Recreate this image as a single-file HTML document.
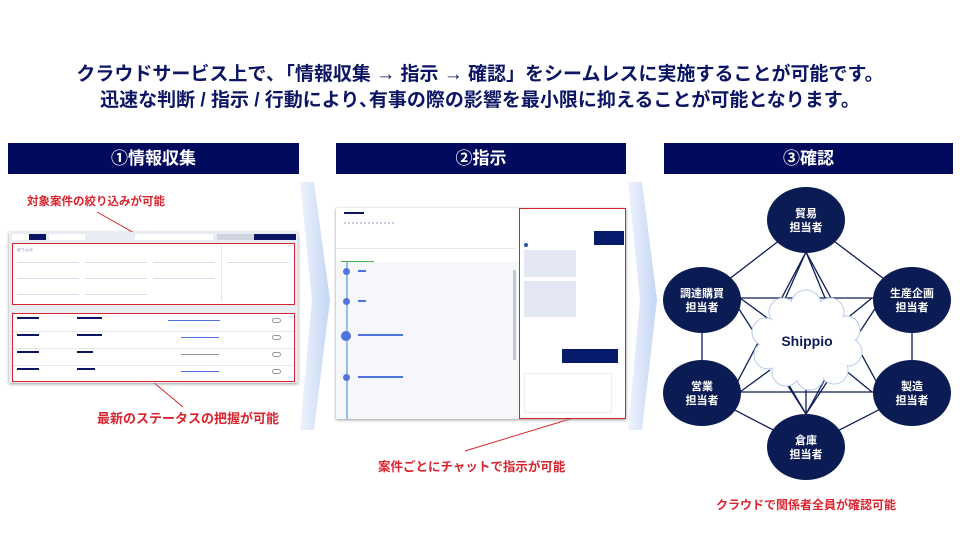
<!DOCTYPE html>
<html><head><meta charset="utf-8">
<style>
*{margin:0;padding:0;box-sizing:border-box}
body{width:960px;height:540px;background:#fff;position:relative;overflow:hidden;font-family:"Liberation Sans","Noto Sans CJK JP",sans-serif}
.a{position:absolute}
.title{left:0;width:960px;text-align:center;color:#0b1563;font-weight:700;font-size:19px;line-height:24px}
.hd{top:143px;height:31px;background:#020a5e;color:#fff;font-weight:700;font-size:17px;line-height:31px;text-align:center}
.red{color:#d9252f;font-weight:700;white-space:nowrap}
.t{position:absolute;font-size:4px;color:#8890a8;white-space:nowrap}
</style></head><body>
<div class="a title" style="top:63px">クラウドサービス上で､「情報収集 → 指示 → 確認」をシームレスに実施することが可能です。</div>
<div class="a title" style="top:89px">迅速な判断 / 指示 / 行動により､有事の際の影響を最小限に抑えることが可能となります。</div>
<div class="a hd" style="left:8px;width:291px">①情報収集</div>
<div class="a hd" style="left:336px;width:290px">②指示</div>
<div class="a hd" style="left:664px;width:289px">③確認</div>

<svg class="a" style="left:0;top:0" width="960" height="540">
<defs><linearGradient id="g" x1="0" x2="1"><stop offset="0" stop-color="#eef3fd"/><stop offset="1" stop-color="#c5d6f3"/></linearGradient></defs>
<polygon points="300,182 314,182 330,300 314,430 300,430 312,300" fill="url(#g)"/>
<polygon points="628,182 642,182 657,300 642,430 628,430 640,300" fill="url(#g)"/>
<!-- red leader lines -->
<line x1="97" y1="212" x2="152" y2="243" stroke="#d9252f" stroke-width="1"/>
<line x1="153" y1="382" x2="183" y2="407" stroke="#d9252f" stroke-width="1"/>
<line x1="465" y1="451" x2="570" y2="419" stroke="#d9252f" stroke-width="1"/>
<!-- network -->
<g stroke="#0e1d57" stroke-width="1.3">
<line x1="806" y1="220" x2="702" y2="300"/><line x1="806" y1="220" x2="912" y2="300"/>
<line x1="702" y1="300" x2="702" y2="393"/><line x1="912" y1="300" x2="912" y2="393"/>
<line x1="702" y1="393" x2="806" y2="447"/><line x1="912" y1="393" x2="806" y2="447"/>
<line x1="702" y1="298" x2="912" y2="298"/><line x1="702" y1="392" x2="912" y2="392"/>
<line x1="806" y1="252" x2="732" y2="392"/><line x1="806" y1="252" x2="882" y2="392"/>
<line x1="806" y1="414" x2="732" y2="298"/><line x1="806" y1="414" x2="882" y2="298"/>
<line x1="806" y1="252" x2="780" y2="310"/><line x1="806" y1="252" x2="830" y2="310"/>
<line x1="806" y1="414" x2="780" y2="370"/><line x1="806" y1="414" x2="830" y2="370"/>
<line x1="806" y1="414" x2="806" y2="370"/>
<line x1="740" y1="298" x2="770" y2="320"/><line x1="740" y1="392" x2="770" y2="370"/>
<line x1="872" y1="298" x2="845" y2="320"/><line x1="872" y1="392" x2="845" y2="370"/>
</g>
<g fill="#fff" stroke="#b9cdea" stroke-width="1">
<circle cx="783" cy="312" r="14"/><circle cx="806" cy="305" r="15"/><circle cx="830" cy="312" r="14"/>
<circle cx="846" cy="330" r="14"/><circle cx="848" cy="352" r="14"/><circle cx="834" cy="370" r="14"/>
<circle cx="810" cy="376" r="14"/><circle cx="786" cy="372" r="14"/><circle cx="768" cy="355" r="14"/>
<circle cx="766" cy="332" r="14"/>
</g>
<g fill="#fff"><circle cx="783" cy="312" r="13"/><circle cx="806" cy="305" r="14"/><circle cx="830" cy="312" r="13"/>
<circle cx="846" cy="330" r="13"/><circle cx="848" cy="352" r="13"/><circle cx="834" cy="370" r="13"/>
<circle cx="810" cy="376" r="13"/><circle cx="786" cy="372" r="13"/><circle cx="768" cy="355" r="13"/>
<circle cx="766" cy="332" r="13"/><ellipse cx="807" cy="340" rx="40" ry="30"/></g>
<text x="807" y="346" text-anchor="middle" font-size="14" font-weight="700" fill="#0e1d57" font-family="Liberation Sans,sans-serif">Shippio</text>
<g fill="#0b1c55">
<ellipse cx="806" cy="220" rx="39" ry="33"/><ellipse cx="702" cy="300" rx="39" ry="33"/>
<ellipse cx="912" cy="300" rx="39" ry="33"/><ellipse cx="702" cy="393" rx="39" ry="33"/>
<ellipse cx="912" cy="393" rx="39" ry="33"/><ellipse cx="806" cy="447" rx="39" ry="33"/>
</g>
<g fill="#fff" font-size="11" text-anchor="middle" font-family="Liberation Sans,Noto Sans CJK JP,sans-serif" font-weight="700">
<text x="806" y="217">貿易</text><text x="806" y="231">担当者</text>
<text x="702" y="297">調達購買</text><text x="702" y="311">担当者</text>
<text x="912" y="297">生産企画</text><text x="912" y="311">担当者</text>
<text x="702" y="390">営業</text><text x="702" y="404">担当者</text>
<text x="912" y="390">製造</text><text x="912" y="404">担当者</text>
<text x="806" y="444">倉庫</text><text x="806" y="458">担当者</text>
</g>
</svg>

<div class="a red" style="left:27px;top:193px;font-size:11.5px">対象案件の絞り込みが可能</div>
<div class="a red" style="left:97px;top:408px;font-size:13px">最新のステータスの把握が可能</div>
<div class="a red" style="left:378px;top:456px;font-size:12.5px">案件ごとにチャットで指示が可能</div>
<div class="a red" style="left:716px;top:496px;font-size:12px">クラウドで関係者全員が確認可能</div>

<!-- screenshot 1 -->
<div class="a" style="left:9px;top:232px;width:289px;height:151px;background:#e8ecf3;box-shadow:0 1px 3px #999">
 <div class="a" style="left:3px;top:2px;width:17px;height:6px;background:#fff"></div>
 <div class="a" style="left:20px;top:2px;width:17px;height:6px;background:#0b1563"></div>
 <div class="a" style="left:40px;top:2px;width:36px;height:6px;background:#fff"></div>
 <div class="a" style="left:126px;top:2px;width:78px;height:6px;background:#fff"></div>
 <div class="a" style="left:208px;top:2px;width:40px;height:6px;background:#cfd4de"></div>
 <div class="a" style="left:245px;top:2px;width:42px;height:6px;background:#0b1563"></div>
 <div class="a" style="left:3px;top:11px;width:283px;height:62px;background:#fff;border:1px solid #d9252f">
  <div class="t" style="left:4px;top:3px">絞り込み</div>
  <div class="a" style="left:4px;top:14px;width:62px;height:5px;border-bottom:1px solid #dde"></div>
  <div class="a" style="left:72px;top:14px;width:62px;height:5px;border-bottom:1px solid #dde"></div>
  <div class="a" style="left:140px;top:14px;width:62px;height:5px;border-bottom:1px solid #dde"></div>
  <div class="a" style="left:214px;top:14px;width:62px;height:5px;border-bottom:1px solid #dde"></div>
  <div class="a" style="left:4px;top:30px;width:62px;height:5px;border-bottom:1px solid #dde"></div>
  <div class="a" style="left:72px;top:30px;width:62px;height:5px;border-bottom:1px solid #dde"></div>
  <div class="a" style="left:140px;top:30px;width:62px;height:5px;border-bottom:1px solid #dde"></div>
  <div class="a" style="left:4px;top:46px;width:62px;height:5px;border-bottom:1px solid #dde"></div>
  <div class="a" style="left:72px;top:46px;width:62px;height:5px;border-bottom:1px solid #dde"></div>
  <div class="a" style="left:208px;top:2px;width:1px;height:56px;background:#e4e6ec"></div>
 </div>
 <div class="a" style="left:3px;top:81px;width:283px;height:69px;background:#fff;border:1px solid #d9252f">
  <div class="a" style="left:0;top:17px;width:281px;height:1px;background:#e4e6ec"></div>
  <div class="a" style="left:0;top:34px;width:281px;height:1px;background:#e4e6ec"></div>
  <div class="a" style="left:0;top:51px;width:281px;height:1px;background:#e4e6ec"></div>
  <div class="a" style="left:4px;top:3px;width:22px;height:2px;background:#0b1563"></div>
  <div class="a" style="left:4px;top:20px;width:22px;height:2px;background:#0b1563"></div>
  <div class="a" style="left:4px;top:37px;width:22px;height:2px;background:#0b1563"></div>
  <div class="a" style="left:4px;top:54px;width:22px;height:2px;background:#0b1563"></div>
  <div class="a" style="left:64px;top:3px;width:25px;height:2px;background:#0b1563"></div>
  <div class="a" style="left:64px;top:20px;width:25px;height:2px;background:#0b1563"></div>
  <div class="a" style="left:64px;top:37px;width:16px;height:2px;background:#0b1563"></div>
  <div class="a" style="left:64px;top:54px;width:18px;height:2px;background:#0b1563"></div>
  <div class="a" style="left:155px;top:6px;width:52px;height:1px;background:#4f74e0"></div>
  <div class="a" style="left:168px;top:23px;width:38px;height:1px;background:#4f74e0"></div>
  <div class="a" style="left:168px;top:40px;width:38px;height:1px;background:#999"></div>
  <div class="a" style="left:168px;top:57px;width:38px;height:1px;background:#4f74e0"></div>
  <div class="a" style="left:259px;top:4px;width:9px;height:5px;border:1px solid #999;border-radius:3px"></div>
  <div class="a" style="left:259px;top:21px;width:9px;height:5px;border:1px solid #999;border-radius:3px"></div>
  <div class="a" style="left:259px;top:38px;width:9px;height:5px;border:1px solid #999;border-radius:3px"></div>
  <div class="a" style="left:259px;top:55px;width:9px;height:5px;border:1px solid #999;border-radius:3px"></div>
 </div>
</div>

<!-- screenshot 2 -->
<div class="a" style="left:336px;top:208px;width:290px;height:211px;background:#fff;box-shadow:0 1px 3px #999">
 <div class="a" style="left:8px;top:4px;width:20px;height:2px;background:#0b1563"></div>
 <div class="a" style="left:8px;top:14px;width:50px;height:10px;border-top:2px dotted #c8cde0"></div>
 <div class="a" style="left:0;top:40px;width:180px;height:1px;background:#e4e6ec"></div>
 <div class="a" style="left:5px;top:53px;width:33px;height:1px;background:#4ab24a"></div>
 <div class="a" style="left:0;top:54px;width:183px;height:157px;background:#f6f7fa"></div>
 <div class="a" style="left:10px;top:54px;width:2px;height:157px;background:#9db9f2"></div>
 <div class="a" style="left:7px;top:60px;width:7px;height:7px;border-radius:50%;background:#4f74e0"></div>
 <div class="a" style="left:7px;top:90px;width:7px;height:7px;border-radius:50%;background:#4f74e0"></div>
 <div class="a" style="left:5px;top:123px;width:10px;height:10px;border-radius:50%;background:#4f74e0"></div>
 <div class="a" style="left:7px;top:166px;width:7px;height:7px;border-radius:50%;background:#4f74e0"></div>
 <div class="a" style="left:22px;top:62px;width:8px;height:2px;background:#4f74e0"></div>
 <div class="a" style="left:22px;top:92px;width:8px;height:2px;background:#4f74e0"></div>
 <div class="a" style="left:22px;top:126px;width:45px;height:2px;background:#4f74e0"></div>
 <div class="a" style="left:22px;top:168px;width:45px;height:2px;background:#4f74e0"></div>
 <div class="a" style="left:177px;top:62px;width:3px;height:90px;background:#c5c8d0"></div>
 <div class="a" style="left:183px;top:0;width:107px;height:211px;border:1px solid #d9252f;background:#fff">
  <div class="a" style="left:74px;top:22px;width:30px;height:14px;background:#071a6b"></div>
  <div class="a" style="left:4px;top:34px;width:4px;height:4px;border-radius:50%;background:#2a56a8"></div>
  <div class="a" style="left:4px;top:41px;width:52px;height:27px;background:#e4e8f4"></div>
  <div class="a" style="left:4px;top:72px;width:52px;height:36px;background:#e4e8f4"></div>
  <div class="a" style="left:74px;top:140px;width:56px;height:14px;background:#071a6b;left:42px"></div>
  <div class="a" style="left:4px;top:164px;width:88px;height:40px;border:1px solid #eee"></div>
 </div>
</div>
</body></html>
